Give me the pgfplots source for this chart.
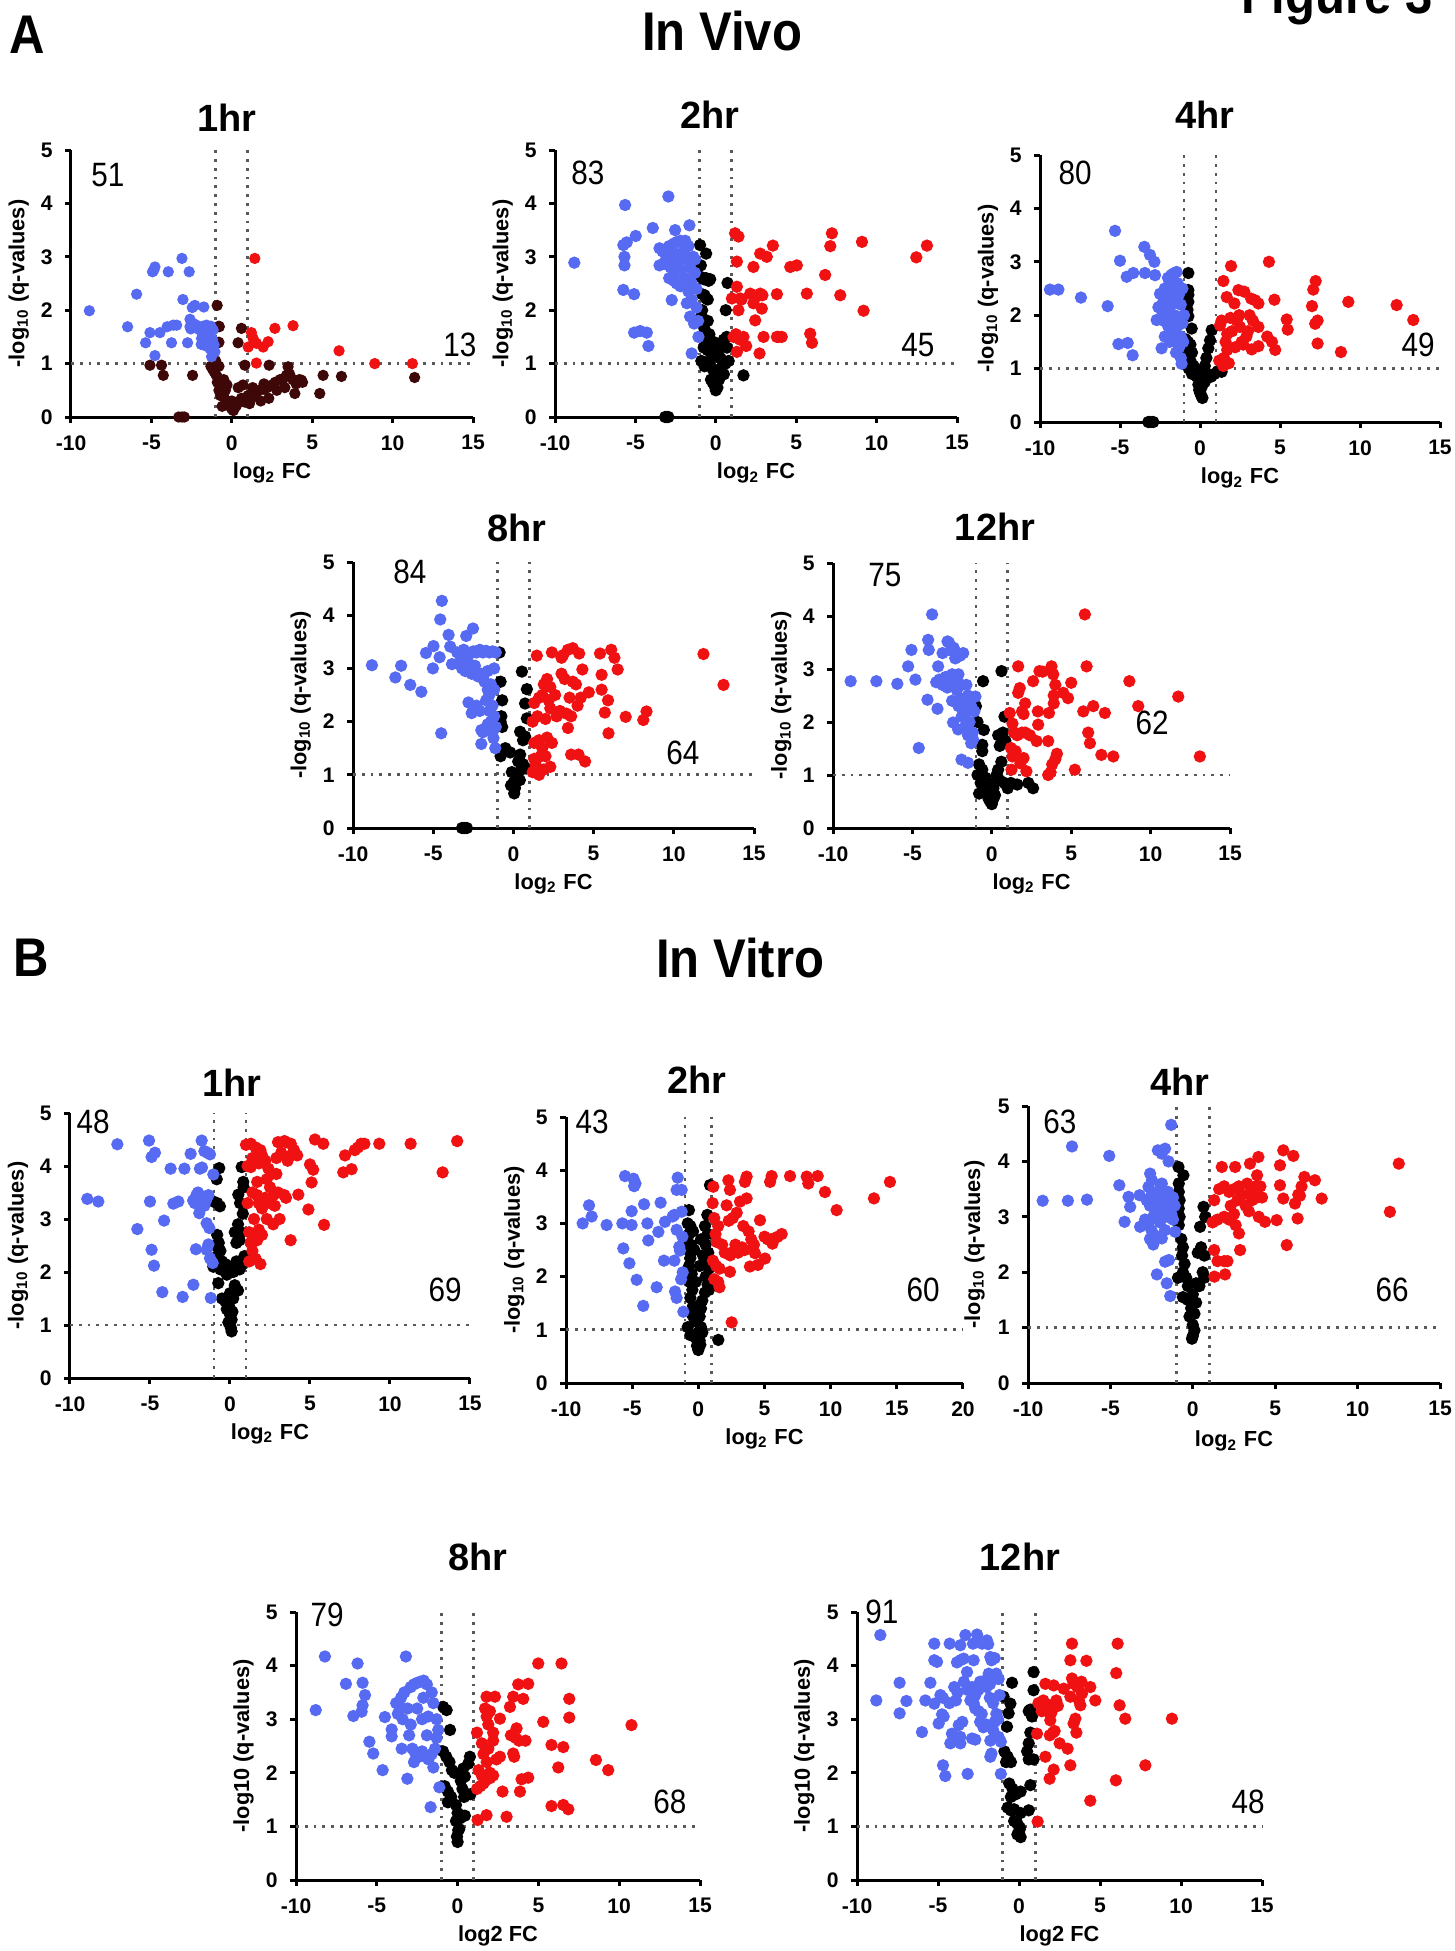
\documentclass[border=0pt]{standalone}
\usepackage{fontspec}
\setmainfont{Liberation Sans}
\newfontfamily\headfont[FakeStretch=0.9]{Liberation Sans}
\newfontfamily\numfont[FakeStretch=0.88]{Liberation Sans}
\usepackage{pgfplots}
\pgfplotsset{compat=1.18}

\definecolor{downblue}{RGB}{86,106,242}
\definecolor{upred}{RGB}{240,18,18}
\definecolor{nsbrown}{RGB}{62,8,8}

\pgfplotsset{
  volc/.style={
    scale only axis, anchor=south west,
    xmin=-10, xmax=15, ymin=0, ymax=5,
    axis x line=bottom, axis y line=left,
    axis line style={-, line width=0.3mm},
    xtick={-10,-5,...,15}, ytick={0,1,...,5},
    tick align=outside, major tick length=0.6mm,
    every tick/.style={black, line width=0.3mm},
    tick label style={font=\fontsize{6}{7}\selectfont\bfseries},
    /pgf/number format/assume math mode=true,
    xlabel={log\textsubscript{2} FC},
    ylabel={-log\textsubscript{10} (q-values)},
    every axis x label/.style={at={(axis description cs:0.5,-0.21)}, anchor=center,
      font=\fontsize{6.2}{7}\selectfont\bfseries},
    every axis y label/.style={at={(axis description cs:-0.13,0.5)}, anchor=center, rotate=90,
      font=\fontsize{6.2}{7}\selectfont\bfseries},
    clip=false,
  },
  dn/.style={only marks, mark=*, mark size=1.55pt, color=downblue, mark options={draw=none}},
  up/.style={only marks, mark=*, mark size=1.55pt, color=upred, mark options={draw=none}},
  ns/.style={only marks, mark=*, mark size=1.55pt, color=black, mark options={draw=none}},
  cut/.style={no marks, line width=0.28mm, black!65, dash pattern=on 0.28mm off 0.6mm},
}

\newcommand{\cuts}[1]{%
  \addplot[cut] coordinates {(-10,1) (#1,1)};
  \addplot[cut] coordinates {(-1,0) (-1,5)};
  \addplot[cut] coordinates {(1,0) (1,5)};
}
\newcommand{\cnt}[3]{\node[font=\numfont\fontsize{9.6}{11}\selectfont] at (axis cs:#1,#2) {#3};}
\newcommand{\ttl}[3]{\node[font=\bfseries\fontsize{10.8}{12}\selectfont] at (axis cs:#1,#2) {#3};}

\begin{document}
\begin{tikzpicture}
\useasboundingbox (0,0) rectangle (14.55,-19.51);
\node[font=\headfont\bfseries\fontsize{15.5}{18}\selectfont] at (0.27,-0.35) {A};
\node[font=\headfont\bfseries\fontsize{15.5}{18}\selectfont] at (7.22,-0.31) {In Vivo};
\node[font=\headfont\bfseries\fontsize{15.5}{18}\selectfont, anchor=base east] at (14.45,-0.13) {Figure 3};
\node[font=\headfont\bfseries\fontsize{15.5}{18}\selectfont] at (0.31,-9.58) {B};
\node[font=\headfont\bfseries\fontsize{15.5}{18}\selectfont] at (7.40,-9.58) {In Vitro};

% ---------------- A: in vivo, 1hr
\begin{axis}[volc, at={(0.71cm,-4.17cm)}, width=4.02cm, height=2.67cm]
\cuts{15}
\addplot[ns, color=nsbrown, mark size=1.4pt] coordinates {
(-0.91,2.09) (-0.78,1.69) (-0.85,1.39) (0.60,1.66) (0.39,1.39) (0.81,0.97) (2.32,0.97)
(-5.09,0.97) (-4.37,0.97) (-4.26,0.78) (-2.44,0.78) (-3.30,0) (-3.10,0) (-2.95,0)
(3.50,0.94) (3.92,0.44) (5.47,0.44) (5.68,0.78) (6.82,0.76) (11.37,0.74) (4.33,0.69)
(-1.3,0.95) (-1.2,0.9) (-1.1,0.85) (-1.0,0.8) (-0.9,0.75) (-0.8,0.95) (-0.7,0.6) (-0.8,0.5)
(-0.6,0.45) (-0.5,0.38) (-0.4,0.5) (-0.3,0.3) (-0.2,0.25) (-0.1,0.2) (0,0.15) (0.1,0.12)
(0.2,0.18) (0.3,0.22) (0.5,0.3) (0.6,0.35) (0.8,0.28) (1.0,0.4) (1.2,0.35) (1.5,0.45)
(1.7,0.5) (2.0,0.52) (2.2,0.55) (2.5,0.6) (2.7,0.65) (3.0,0.7) (3.2,0.72) (3.4,0.78)
(3.6,0.8) (3.8,0.7) (4.0,0.62) (4.2,0.7) (4.4,0.65) (-0.9,0.65) (-0.7,0.4) (0.4,0.55)
(0.7,0.6) (1.3,0.55) (2.3,0.35) (1.8,0.3) (-0.5,0.7) (-1.0,1.05) (-0.3,0.6) (-0.8,1.7)
(-0.8,1.4) (2.0,0.62) (2.8,0.5) (1.1,0.25) (0.0,0.3) (-0.6,0.2) (3.3,0.55)
};
\addplot[dn, mark size=1.4pt] coordinates {
(-8.86,1.99) (-6.48,1.69) (-5.92,2.30) (-5.36,1.39) (-5.09,1.58) (-4.93,2.72) (-4.78,2.81)
(-4.85,2.75) (-4.78,1.15) (-4.47,1.58) (-4.02,1.69) (-3.95,2.72) (-3.75,1.39) (-3.64,1.72)
(-3.43,1.72) (-3.10,2.97) (-3.04,2.20) (-2.75,1.39) (-2.65,2.72) (-2.60,1.83) (-2.60,1.69)
(-2.46,2.05) (-2.30,2.09) (-2.20,1.72) (-2.40,1.75) (-2.00,1.63) (-1.74,2.06) (-1.88,1.47)
(-1.68,1.34) (-1.57,1.72) (-1.47,1.47) (-1.36,1.28) (-1.16,1.63) (-1.26,1.13) (-1.05,1.22)
(-1.30,1.70) (-1.80,1.70) (-1.60,1.40) (-1.45,1.60) (-1.20,1.45) (-2.10,1.68) (-1.90,1.36)
(-1.10,1.35) (-2.55,1.65)
};
\addplot[up, mark size=1.4pt] coordinates {
(1.43,2.97) (1.22,1.58) (1.02,1.31) (1.33,1.47) (1.53,1.38) (1.53,1.01) (1.95,1.31)
(2.26,1.41) (2.68,1.66) (3.81,1.71) (6.67,1.24) (8.89,1.00) (11.23,1.00)
};
\ttl{-0.30}{5.6}{1hr}
\cnt{-7.70}{4.53}{51}
\cnt{14.19}{1.35}{13}
\end{axis}

% ---------------- A: in vivo, 2hr
\begin{axis}[volc, at={(5.55cm,-4.17cm)}, width=4.02cm, height=2.67cm]
\cuts{15}
\addplot[ns] coordinates {
(-0.98,3.22) (-0.60,3.06) (-0.93,2.84) (-0.9,2.62) (-0.75,2.58) (-0.6,2.6) (-0.45,2.55)
(-0.35,2.58) (-0.85,2.3) (-0.6,2.22) (-0.7,2.28) (-0.5,2.2) (0.73,2.51) (0.62,2.00)
(-0.9,1.9) (-0.8,1.75) (-0.7,1.65) (-0.5,1.8) (-0.85,1.5) (-0.6,1.45) (-0.4,1.55)
(-0.75,1.3) (-0.5,1.25) (-0.3,1.35) (-0.1,1.4) (0.1,1.2) (0.3,1.3) (0.5,1.45) (0.68,1.50)
(-0.9,1.05) (-0.7,0.95) (-0.4,1.0) (-0.2,0.9) (0.0,0.8) (0.2,0.85) (0.4,0.95) (0.6,1.0)
(0.8,1.05) (0.5,0.8) (-0.3,0.7) (-0.1,0.6) (0.1,0.55) (0.0,0.5) (-0.2,0.65) (0.2,0.7)
(1.72,0.78) (-3.15,0) (-2.95,0) (-3.05,0) (-0.3,1.1) (0.3,1.1) (0.7,1.3) (-0.85,2.0)
};
\addplot[dn] coordinates {
(-8.80,2.89) (-5.64,3.97) (-5.75,3.22) (-5.54,3.27) (-5.68,3.00) (-5.68,2.84) (-5.75,2.38)
(-5.08,2.30) (-4.98,3.39) (-5.08,1.58) (-4.71,1.61) (-4.29,1.58) (-4.19,1.33) (-3.92,3.54)
(-3.50,3.16) (-3.50,2.84) (-2.95,4.13) (-2.53,3.50) (-1.64,3.59)
(-3.3,3.1) (-3.1,2.95) (-2.9,3.2) (-2.8,2.8) (-2.7,3.0) (-2.6,3.25) (-2.5,2.7) (-2.4,3.05)
(-2.3,2.9) (-2.2,3.3) (-2.1,2.75) (-2.0,3.1) (-1.9,2.6) (-1.8,2.95) (-1.7,3.2) (-1.6,2.8)
(-1.5,2.5) (-1.4,3.0) (-1.3,2.7) (-1.2,2.4) (-1.9,3.3) (-2.6,2.55) (-2.2,2.45) (-1.7,2.35)
(-1.5,2.2) (-2.9,2.6) (-3.0,2.85) (-2.4,3.28) (-1.3,2.95)
(-2.74,2.19) (-2.43,2.50) (-1.80,2.13) (-1.60,1.88) (-1.08,1.50) (-1.50,1.19) (-1.35,1.75)
(-1.2,2.05) (-1.1,1.8)
};
\addplot[up] coordinates {
(1.20,3.44) (1.41,3.38) (1.31,2.91) (1.31,2.44) (1.00,2.22) (1.51,2.22) (1.41,2.00)
(1.10,1.50) (1.72,1.50) (1.31,1.22) (1.89,1.33) (2.34,2.81) (2.14,2.31) (2.34,2.13)
(2.45,1.81) (2.76,2.31) (2.86,2.03) (2.97,1.50) (2.72,1.19) (2.76,3.06) (3.17,3.00)
(3.55,3.21) (3.80,2.30) (3.80,1.50) (4.10,1.50) (4.63,2.81) (5.04,2.84) (5.66,2.31)
(5.87,1.56) (5.98,1.39) (6.80,2.66) (7.12,3.20) (7.22,3.44) (7.74,2.28) (9.09,3.28)
(9.19,1.99) (12.47,2.99) (13.13,3.21) (1.5,1.45) (2.5,2.25) (3.9,1.5) (1.25,1.55)
(2.9,2.28) (1.6,2.2)
};
\ttl{-0.36}{5.66}{2hr}
\cnt{-7.95}{4.57}{83}
\cnt{12.57}{1.35}{45}
\end{axis}

% ---------------- A: in vivo, 4hr
\begin{axis}[volc, at={(10.40cm,-4.22cm)}, width=4.00cm, height=2.67cm]
\cuts{15}
\addplot[ns] coordinates {
(-0.73,2.79) (-0.73,2.47) (-0.73,2.38) (-0.73,2.25) (-0.78,2.10) (-0.73,1.98) (-0.52,1.75)
(-0.9,1.55) (-0.75,1.5) (-0.6,1.45) (-0.85,1.35) (-0.5,1.3) (-0.8,1.2) (-0.6,1.15)
(-0.4,1.05) (-0.7,1.0) (-0.3,0.95) (-0.5,0.9) (-0.2,0.85) (0.0,0.8) (0.73,1.72) (0.63,1.53)
(0.52,1.38) (0.4,1.2) (0.3,1.05) (0.2,0.95) (0.5,0.9) (0.7,0.85) (0.9,0.9) (1.35,0.94)
(1.1,0.95) (-0.1,0.7) (0.1,0.65) (0.0,0.55) (0.1,0.48) (0.15,0.45) (-0.05,0.6) (0.3,0.75)
(-3.23,0) (-2.92,0) (-3.1,0)
};
\addplot[dn] coordinates {
(-9.38,2.48) (-8.85,2.48) (-7.44,2.33) (-5.77,2.17) (-5.31,3.58) (-5.00,3.02) (-5.10,1.46)
(-4.52,1.48) (-4.21,1.25) (-4.58,2.72) (-4.17,2.79) (-3.48,3.28) (-3.44,2.79) (-3.13,3.13)
(-2.85,3.00) (-2.81,2.75) (-2.71,1.91) (-2.40,1.38) (-1.67,2.78) (-1.46,2.81) (-1.15,1.09)
(-2.5,2.4) (-2.3,2.25) (-2.2,2.5) (-2.1,2.1) (-2.0,2.35) (-1.9,2.6) (-1.8,2.2) (-1.7,2.45)
(-1.6,2.0) (-1.5,2.3) (-1.4,2.6) (-1.3,1.9) (-1.2,2.2) (-1.1,2.5) (-2.4,2.1) (-2.6,2.15)
(-2.3,1.9) (-2.0,1.8) (-1.8,1.95) (-1.6,1.7) (-1.4,1.8) (-1.2,1.6) (-1.1,1.85) (-1.9,1.5)
(-1.7,1.55) (-1.3,1.4) (-1.5,1.3) (-1.2,1.2) (-2.2,1.6) (-1.0,2.0) (-1.05,1.5) (-2.0,2.7)
(-1.8,2.75) (-1.3,2.4)
};
\addplot[up] coordinates {
(1.46,2.64) (1.94,2.92) (1.67,2.34) (1.35,1.90) (1.25,1.81) (1.6,1.5) (1.7,1.35) (1.5,1.2)
(1.8,1.1) (1.2,1.15) (1.45,1.05) (2.15,2.22) (2.40,2.47) (2.30,1.90) (2.50,1.78)
(2.77,2.44) (2.6,1.5) (2.9,1.6) (2.7,1.45) (3.10,2.00) (3.20,2.31) (3.44,2.28) (3.65,2.22)
(3.65,1.78) (3.65,1.42) (3.23,1.36) (4.2,1.6) (4.5,1.5) (4.7,1.35) (4.31,3.00) (4.65,2.29)
(5.42,1.92) (5.48,1.73) (7.00,2.17) (7.08,2.48) (7.23,2.64) (7.20,1.84) (7.35,1.90)
(7.35,1.47) (8.81,1.31) (9.27,2.25) (12.29,2.19) (13.33,1.91) (2.0,1.7) (1.9,1.95)
(2.2,1.4) (3.0,1.7) (1.7,1.65) (2.45,2.0) (3.3,1.9)
};
\ttl{0.31}{5.75}{4hr}
\cnt{-7.81}{4.66}{80}
\cnt{13.63}{1.44}{49}
\end{axis}

% ---------------- A: in vivo, 8hr
\begin{axis}[volc, at={(3.53cm,-8.28cm)}, width=4.01cm, height=2.66cm]
\cuts{15}
\addplot[ns] coordinates {
(-0.86,3.30) (0.53,2.94) (-0.8,2.75) (-0.7,2.4) (-0.75,2.1) (-0.8,2.0) (-0.7,1.9) (0.84,2.61)
(0.73,2.34) (0.84,2.06) (0.42,1.81) (0.73,1.72) (0.6,1.65) (-0.7,1.45) (-0.5,1.5)
(-0.2,1.42) (-0.8,1.35) (0.42,1.38) (0.6,1.2) (0.3,1.25) (0.5,1.1) (0.8,1.12) (-0.1,1.05)
(0.2,1.0) (0.0,0.85) (0.1,0.75) (0.05,0.65) (-0.15,0.8) (0.4,0.9) (-3.2,0) (-2.9,0) (-3.05,0)
};
\addplot[dn] coordinates {
(-8.82,3.06) (-7.36,2.83) (-7.00,3.05) (-6.43,2.69) (-5.74,2.56) (-5.45,3.29) (-4.98,3.42)
(-5.02,3.00) (-4.60,3.21) (-4.56,3.92) (-4.50,1.78) (-4.46,4.27) (-4.04,3.63) (-3.94,3.41)
(-3.83,3.08) (-2.94,3.61) (-2.52,3.75)
(-3.5,3.3) (-3.3,3.25) (-3.1,3.35) (-2.9,3.3) (-2.7,3.28) (-2.5,3.32) (-2.3,3.3) (-2.1,3.35)
(-1.9,3.3) (-1.7,3.33) (-1.5,3.3) (-1.3,3.32) (-1.1,3.3) (-3.4,3.1) (-3.2,3.0) (-3.0,2.95)
(-2.8,3.1) (-2.6,2.9) (-2.4,3.05) (-2.2,2.85) (-2.0,2.9) (-1.8,2.75) (-1.6,2.95) (-1.4,2.7)
(-1.2,3.0) (-1.5,2.5) (-1.7,2.4) (-1.3,2.3) (-1.2,2.1) (-1.4,2.0) (-1.1,1.9) (-1.3,1.8)
(-1.6,2.6) (-2.8,2.36) (-2.6,2.16) (-2.1,2.2) (-1.9,1.8) (-2.3,2.3) (-2.0,1.84) (-2.0,1.58)
(-1.24,1.69) (-1.13,1.50) (-1.5,2.2) (-1.2,2.6) (-1.6,1.95)
};
\addplot[up] coordinates {
(1.46,3.24) (2.40,3.30) (3.0,3.20) (3.4,3.35) (3.1,3.25) (3.7,3.38) (4.1,3.28) (5.4,3.28)
(6.1,3.35) (6.3,3.2) (6.5,2.98) (4.3,2.98) (3.0,2.9) (3.2,2.8) (1.9,2.7) (2.1,2.8)
(2.3,2.65) (1.6,2.45) (1.3,2.35) (1.8,2.5) (2.2,2.4) (2.6,2.5) (3.7,2.75) (3.9,2.7)
(3.5,2.45) (4.2,2.45) (4.7,2.55) (5.5,2.88) (5.5,2.6) (5.9,2.4) (5.7,2.17) (5.93,1.78)
(7.0,2.09) (8.1,2.03) (8.3,2.19) (11.85,3.27) (13.1,2.69) (1.2,2.0) (1.5,2.1) (2.0,2.05)
(2.3,2.25) (2.7,2.1) (2.9,2.2) (3.3,2.15) (3.6,2.1) (4.0,2.3) (3.4,1.88) (1.3,1.6)
(1.6,1.65) (2.1,1.7) (1.8,1.5) (1.3,1.3) (1.7,1.35) (1.4,1.18) (1.9,1.1) (2.3,1.15)
(1.2,1.05) (1.6,1.0) (3.6,1.38) (4.06,1.38) (4.47,1.25) (2.0,1.35) (2.4,1.6)
};
\ttl{0.22}{5.64}{8hr}
\cnt{-6.45}{4.81}{84}
\cnt{10.57}{1.41}{64}
\end{axis}

% ---------------- A: in vivo, 12hr
\begin{axis}[volc, at={(8.33cm,-8.28cm)}, width=3.97cm, height=2.65cm]
\cuts{15}
\addplot[ns] coordinates {
(0.61,2.96) (-0.55,2.77) (-1.0,2.3) (-0.9,2.0) (-0.5,1.85) (-0.6,1.57) (-0.6,1.45) (0.4,1.75)
(0.85,1.65) (0.7,1.8) (-0.8,1.2) (-0.6,1.1) (-0.9,1.0) (-0.4,0.95) (-0.7,0.85) (-0.5,0.75)
(-0.3,0.65) (-0.2,0.55) (-0.1,0.5) (0.0,0.45) (0.1,0.55) (0.2,0.62) (0.4,1.1) (0.5,0.9)
(0.8,0.85) (1.2,0.85) (1.6,0.82) (2.3,0.85) (2.6,0.75) (0.3,1.0) (0.6,1.25) (-0.2,0.85)
(0.1,0.75) (0.8,2.1) (-0.8,0.65) (0.5,1.55) (1.0,0.75)
};
\addplot[dn] coordinates {
(-8.89,2.77) (-7.27,2.77) (-5.95,2.72) (-5.27,3.05) (-5.06,3.36) (-4.81,2.80) (-4.60,1.51)
(-4.01,3.55) (-3.97,3.36) (-4.05,2.42) (-3.76,4.03) (-3.38,3.05) (-3.42,2.25) (-2.79,3.52)
(-2.44,1.99) (-2.12,1.86) (-1.91,1.29) (-1.50,1.23) (-1.18,1.67) (-1.03,2.48)
(-3.5,2.75) (-3.3,2.8) (-3.1,2.7) (-2.9,2.85) (-2.7,2.75) (-2.5,2.9) (-2.3,2.8) (-2.1,2.9)
(-1.9,2.7) (-2.6,3.35) (-2.4,3.4) (-2.2,3.3) (-2.0,3.25) (-1.8,3.3) (-2.3,3.2) (-2.8,2.65)
(-2.2,2.6) (-2.0,2.45) (-1.8,2.35) (-1.6,2.2) (-2.1,2.3) (-1.5,2.5) (-1.4,2.0) (-1.7,1.9)
(-1.5,1.75) (-1.3,1.6) (-1.9,2.1) (-2.5,2.4) (-1.2,1.8) (-1.6,2.7) (-1.3,2.3) (-1.1,2.2)
(-2.7,3.5) (-3.1,3.3)
};
\addplot[up] coordinates {
(5.86,4.03) (5.97,3.05) (1.66,3.05) (3.0,2.96) (3.2,2.95) (3.76,3.05) (3.87,2.9) (2.6,2.77)
(4.0,2.7) (5.0,2.74) (4.5,2.55) (4.8,2.45) (1.76,2.64) (1.66,2.55) (2.1,2.35) (1.9,2.2)
(2.0,2.15) (2.9,2.2) (3.6,2.17) (3.9,2.35) (3.9,2.5) (1.13,2.17) (1.3,1.97) (1.4,1.8)
(1.6,1.75) (1.9,1.8) (2.1,1.8) (2.92,1.95) (2.82,1.64) (3.55,1.64) (1.2,1.51) (1.3,1.35)
(2.0,1.32) (1.8,1.22) (1.24,1.10) (2.18,1.07) (3.55,1.0) (3.8,1.2) (4.0,1.3) (4.1,1.4)
(5.23,1.10) (5.76,2.20) (6.39,2.30) (6.07,1.80) (6.18,1.60) (7.12,2.17) (6.90,1.38)
(7.65,1.35) (8.66,2.77) (9.22,2.30) (11.74,2.48) (13.10,1.35) (3.7,1.05) (2.4,1.75) (1.5,1.45)
};
\ttl{0.2}{5.68}{12hr}
\cnt{-6.73}{4.77}{75}
\cnt{10.09}{1.98}{62}
\end{axis}

% ---------------- B: in vitro, 1hr
\begin{axis}[volc, at={(0.70cm,-13.78cm)}, width=4.00cm, height=2.65cm]
\cuts{15}
\addplot[ns] coordinates {
(-0.67,3.96) (-0.83,3.75) (0.73,3.98) (0.83,3.70) (0.85,3.6) (0.52,3.46) (0.63,3.30)
(-1.04,3.33) (-0.63,3.24) (-0.8,3.3) (0.5,2.9) (0.3,2.75) (0.6,2.6) (0.4,2.55) (0.8,3.1)
(-0.8,2.7) (-0.7,2.55) (-0.6,2.4) (-0.8,2.3) (-0.5,2.2) (-0.3,2.15) (-0.6,2.05) (-1.04,2.10)
(-0.73,1.79) (0.0,2.1) (0.2,2.0) (0.4,2.2) (0.6,2.05) (0.8,2.15) (0.9,2.3) (-0.2,1.95)
(0.3,1.75) (0.5,1.65) (0.2,1.5) (-0.5,1.5) (-0.3,1.45) (-0.2,1.3) (0.0,1.2) (0.1,1.1)
(-0.1,1.05) (0.05,0.95) (0.1,0.88) (-0.05,1.35) (0.15,1.25) (0.0,1.6) (-0.9,2.5) (0.7,2.75)
};
\addplot[dn] coordinates {
(-8.92,3.38) (-8.23,3.33) (-7.04,4.41) (-5.79,2.81) (-5.06,4.48) (-5.00,3.33) (-4.90,4.17)
(-4.69,4.25) (-4.90,2.42) (-4.75,2.12) (-4.23,1.62) (-4.12,2.97) (-3.71,3.95) (-3.54,3.29)
(-3.23,3.33) (-2.96,1.53) (-2.85,3.95) (-2.46,4.23) (-2.29,1.76) (-2.13,2.43) (-1.88,3.95)
(-1.75,3.97) (-1.77,4.48) (-1.60,4.28) (-1.40,4.25) (-1.25,4.22) (-2.3,3.35) (-2.1,3.45)
(-2.0,3.5) (-1.9,3.38) (-1.8,3.3) (-1.7,3.42) (-1.5,3.35) (-1.35,3.45) (-2.2,3.3)
(-1.92,3.11) (-1.46,2.92) (-1.29,2.83) (-1.35,2.52) (-1.46,2.42) (-1.25,2.26) (-1.08,2.17)
(-1.20,1.51) (-1.04,3.84) (-1.6,3.25)
};
\addplot[up] coordinates {
(1.0,4.4) (1.3,4.42) (1.6,4.35) (1.9,4.3) (2.0,4.2) (2.2,4.1) (1.4,4.15) (1.8,4.05)
(1.3,3.98) (2.4,3.95) (2.6,3.85) (2.3,3.75) (1.7,3.7) (3.0,4.45) (3.4,4.47) (3.8,4.42)
(4.0,4.3) (3.2,4.25) (3.6,4.1) (2.9,4.15) (3.5,4.45) (4.2,4.2) (3.8,4.2) (2.9,3.85)
(3.0,3.5) (3.4,3.45) (2.7,3.45) (2.2,3.4) (1.7,3.45) (1.4,3.5) (1.8,3.3) (2.5,3.3) (2.0,3.2)
(3.5,3.4) (2.8,3.25) (2.3,3.0) (1.5,3.0) (2.7,2.9) (3.1,3.0) (1.2,2.75) (1.5,2.65)
(1.8,2.8) (2.0,2.7) (1.3,2.55) (1.7,2.6) (1.4,2.4) (1.6,2.25) (1.9,2.15) (1.2,2.2)
(3.79,2.60) (4.27,3.46) (4.9,3.18) (5.1,3.69) (5.0,4.03) (5.2,3.93) (5.31,4.50) (5.83,4.42)
(5.88,2.89) (7.19,4.20) (7.08,3.88) (7.60,3.94) (7.8,4.3) (8.0,4.35) (8.2,4.42) (8.4,4.42)
(9.33,4.42) (11.29,4.42) (13.29,3.88) (14.20,4.47) (2.5,3.6) (1.1,3.3) (1.1,4.0)
};
\ttl{0.13}{5.58}{1hr}
\cnt{-8.56}{4.83}{48}
\cnt{13.44}{1.66}{69}
\end{axis}

% ---------------- B: in vitro, 2hr
\begin{axis}[volc, at={(5.66cm,-13.83cm)}, width=3.97cm, height=2.66cm, xmax=20, xtick={-10,-5,...,20}]
\cuts{20}
\addplot[ns] coordinates {
(0.88,3.72) (-0.71,3.25) (0.68,3.16) (-0.8,3.0) (-0.6,2.95) (-0.7,2.8) (-0.55,2.6)
(-0.75,2.5) (-0.6,2.35) (-0.7,2.2) (-0.5,2.05) (-0.65,1.9) (-0.45,1.75) (-0.6,1.6)
(-0.4,1.45) (-0.5,1.3) (-0.3,1.2) (-0.8,1.05) (-0.6,0.9) (0.5,2.95) (0.7,2.8) (0.55,2.6)
(0.75,2.45) (0.6,2.3) (0.8,2.15) (0.55,2.0) (0.7,1.85) (0.5,1.7) (0.8,1.75) (0.3,1.55)
(0.2,1.4) (0.1,1.25) (-0.1,1.15) (0.2,1.05) (0.0,0.95) (-0.2,0.85) (0.1,0.8) (-0.1,0.7)
(0.0,0.62) (0.15,0.72) (-0.3,0.9) (0.3,0.95) (1.51,0.81) (-0.3,2.5) (0.2,2.7) (0.1,2.2)
(-0.2,1.9) (0.35,2.4) (-0.9,2.7) (-0.4,2.85)
};
\addplot[dn] coordinates {
(-8.74,3.00) (-8.26,3.34) (-8.06,3.13) (-6.93,2.97) (-5.74,3.00) (-5.67,2.53) (-5.54,3.89)
(-5.21,2.25) (-5.04,2.97) (-5.04,3.23) (-4.90,3.84) (-4.75,3.75) (-4.85,3.70) (-4.66,1.94)
(-4.10,3.36) (-4.16,1.45) (-3.85,3.00) (-3.78,2.68) (-3.15,1.80) (-3.02,2.84) (-2.85,3.39)
(-2.60,2.30) (-2.52,3.03) (-1.81,2.30) (-1.81,3.16) (-1.56,3.86) (-1.64,3.63) (-1.26,3.63)
(-1.94,3.13) (-1.64,2.88) (-1.44,2.56) (-1.26,3.22) (-1.76,1.72) (-1.64,1.60) (-1.18,2.08)
(-1.13,1.34) (-1.39,2.49) (-1.3,1.95) (-1.2,2.75)
};
\addplot[up] coordinates {
(14.48,3.78) (13.27,3.47) (10.45,3.25) (9.57,3.59) (9.02,3.89) (8.19,3.88) (8.31,3.75)
(6.93,3.89) (5.54,3.89) (5.42,3.78) (3.65,3.88) (3.52,3.78) (2.27,3.81) (2.39,3.63)
(1.13,3.69) (1.08,3.38) (2.14,3.34) (3.15,3.41) (3.65,3.47) (2.9,3.2) (2.6,3.1) (2.3,3.05)
(1.2,3.1) (1.5,2.95) (1.3,2.8) (1.4,2.65) (3.4,2.95) (3.8,2.85) (4.0,2.7) (4.2,2.6)
(4.66,3.06) (5.0,2.75) (5.25,2.7) (5.5,2.7) (5.75,2.72) (6.0,2.75) (6.3,2.8) (5.6,2.62)
(2.0,2.45) (2.4,2.4) (2.5,2.45) (3.0,2.45) (3.5,2.5) (3.3,2.55) (4.28,2.44) (5.04,2.34)
(3.90,2.19) (4.50,2.22) (2.39,2.09) (1.1,2.3) (1.35,2.2) (1.6,2.15) (1.5,1.90) (1.6,1.80)
(2.52,1.14) (1.2,1.95) (1.8,2.6) (2.8,2.6)
};
\ttl{-0.1}{5.7}{2hr}
\cnt{-8.03}{4.91}{43}
\cnt{16.98}{1.75}{60}
\end{axis}

% ---------------- B: in vitro, 4hr
\begin{axis}[volc, at={(10.28cm,-13.83cm)}, width=4.12cm, height=2.77cm]
\cuts{15}
\addplot[ns] coordinates {
(-0.87,3.90) (-0.57,3.75) (-0.85,3.6) (-0.85,3.45) (-0.8,3.3) (-0.85,3.15) (-0.8,3.0)
(-0.85,2.85) (0.65,3.18) (0.75,3.00) (0.44,2.82) (0.5,2.45) (0.7,2.3) (0.3,2.35) (-0.7,2.6)
(-0.6,2.45) (-0.65,2.3) (-0.5,2.15) (-0.6,2.0) (0.6,2.0) (0.7,1.9) (0.4,1.75) (-0.9,1.9)
(-0.4,1.9) (-0.6,1.55) (-0.3,1.5) (0.0,1.6) (0.2,1.45) (-0.1,1.35) (0.1,1.25) (-0.2,1.2)
(0.0,1.05) (0.1,0.95) (0.0,0.85) (-0.05,0.8) (0.2,1.8) (-0.3,1.75)
};
\addplot[dn] coordinates {
(-9.11,3.29) (-7.58,3.29) (-7.33,4.27) (-6.42,3.31) (-5.07,4.10) (-4.46,3.57) (-4.14,2.91)
(-3.90,3.36) (-3.80,3.18) (-3.20,2.82) (-3.23,3.39) (-2.59,3.78) (-2.48,3.66) (-2.69,3.54)
(-2.12,4.20) (-1.88,4.14) (-1.68,4.23) (-1.88,3.60) (-1.47,4.00) (-1.31,4.66) (-2.9,2.95)
(-2.7,2.85) (-2.5,2.75) (-2.6,2.6) (-2.4,2.5) (-2.2,2.65) (-2.0,2.9)
(-2.8,3.3) (-2.6,3.2) (-2.5,3.4) (-2.3,3.3) (-2.2,3.1) (-2.1,3.4) (-1.9,3.25) (-1.8,3.05)
(-1.7,3.35) (-1.6,3.15) (-1.5,3.45) (-1.4,3.25) (-1.3,3.05) (-1.2,3.35) (-1.1,3.2)
(-2.4,3.0) (-2.0,3.5) (-1.5,3.0) (-1.2,2.95)
(-1.68,2.76) (-1.88,2.61) (-1.68,2.19) (-1.45,2.22) (-2.18,1.96) (-1.58,1.80) (-1.37,1.57)
(-1.07,2.73)
};
\addplot[up] coordinates {
(12.5,3.96) (11.96,3.09) (7.82,3.33) (7.41,3.66) (6.77,3.72) (6.6,3.55) (6.4,3.4) (6.5,3.38)
(6.2,3.24) (6.36,2.97) (5.49,4.20) (6.10,4.10) (5.29,3.93) (5.29,3.57) (5.49,3.33)
(5.09,2.94) (5.70,2.49) (3.98,4.08) (3.47,3.96) (2.57,3.90) (1.76,3.90) (1.3,3.3) (1.6,3.5)
(1.9,3.55) (2.2,3.45) (2.5,3.5) (2.8,3.55) (3.0,3.4) (2.7,3.3) (3.3,3.6) (3.5,3.45)
(3.8,3.55) (4.1,3.55) (3.6,3.3) (3.9,3.35) (4.2,3.35) (3.2,3.2) (3.4,3.1) (2.3,3.2)
(1.9,3.0) (1.5,2.95) (1.2,2.9) (2.2,2.95) (2.6,2.85) (2.8,2.7) (4.0,3.0) (4.38,2.91)
(2.87,2.40) (1.3,2.4) (1.5,2.2) (1.9,2.2) (2.1,2.2) (1.31,1.92) (1.96,1.96) (2.5,3.05)
(3.9,3.75)
};
\ttl{-0.78}{5.43}{4hr}
\cnt{-8.06}{4.71}{63}
\cnt{12.09}{1.68}{66}
\end{axis}

% ---------------- B: in vitro, 8hr
\begin{axis}[volc, at={(2.96cm,-18.80cm)}, width=4.04cm, height=2.68cm,
  xlabel={log2 FC}, ylabel={-log10 (q-values)}]
\cuts{15}
\addplot[ns] coordinates {
(-0.89,3.23) (-0.68,3.17) (-0.47,2.80) (-0.9,2.4) (-0.7,2.3) (-0.5,2.2) (-0.35,2.05)
(-0.2,2.0) (0.76,2.30) (0.66,2.17) (0.35,2.08) (0.45,1.93) (0.2,1.85) (-0.8,1.75)
(-0.6,1.65) (-0.4,1.55) (-0.6,1.45) (0.4,1.55) (0.6,1.6) (0.8,1.6) (-0.1,1.4) (0.0,1.25)
(0.15,1.15) (0.3,1.2) (0.45,1.2) (-0.1,1.1) (0.1,0.95) (0.04,0.93) (-0.04,0.81) (0.0,0.71)
(0.3,1.7)
};
\addplot[dn] coordinates {
(-8.78,3.17) (-8.21,4.17) (-6.91,3.66) (-6.45,3.06) (-6.19,4.04) (-5.88,3.68) (-5.73,3.45)
(-5.88,3.26) (-5.94,3.14) (-5.46,2.58) (-5.22,2.36) (-4.64,2.05) (-4.50,3.04) (-4.08,2.81)
(-4.08,2.68) (-3.8,3.3) (-3.6,3.25) (-3.7,3.1) (-3.5,3.4) (-3.4,3.0) (-3.46,2.45)
(-3.20,4.17) (-3.11,1.89) (-2.9,3.6) (-2.7,3.65) (-2.5,3.68) (-2.3,3.7) (-2.1,3.72)
(-1.9,3.65) (-1.6,3.5) (-1.5,3.3) (-3.0,2.7) (-2.9,2.9) (-3.1,3.2) (-2.8,2.45) (-2.6,2.35)
(-2.4,2.3) (-2.2,2.4) (-2.0,2.3) (-1.8,2.25) (-1.6,2.35) (-1.4,2.45) (-1.3,2.65) (-1.2,2.8)
(-1.5,2.1) (-2.12,3.40) (-1.82,3.05) (-2.2,3.0) (-2.5,3.2) (-1.67,1.36) (-1.13,1.73)
(-1.3,3.0) (-1.9,2.7) (-3.3,3.5) (-2.7,2.2)
};
\addplot[up] coordinates {
(4.99,4.04) (6.43,4.04) (6.91,3.38) (6.91,3.03) (10.76,2.89) (8.56,2.24) (9.32,2.05)
(4.37,3.66) (3.75,3.65) (4.06,3.38) (5.30,2.95) (5.81,2.52) (6.54,2.48) (6.23,2.10)
(5.81,1.38) (6.54,1.40) (6.85,1.32) (3.03,1.18) (1.79,1.21) (1.24,1.12) (3.86,1.65)
(2.78,1.65) (3.96,1.88) (4.37,1.91) (3.44,2.36) (3.5,2.3) (3.3,2.7) (3.6,2.65) (3.8,2.6)
(4.2,2.6) (3.65,2.83) (3.24,3.23) (3.44,3.42) (2.62,3.01) (1.79,3.42) (2.31,3.42)
(1.7,3.2) (1.8,3.05) (1.9,2.9) (2.0,3.15) (1.2,2.75) (1.5,2.55) (1.6,2.35) (1.8,2.2)
(2.2,2.75) (2.0,2.0) (1.3,2.05) (1.5,1.95) (1.7,1.85) (2.0,1.9) (2.2,1.95) (1.4,1.75)
(1.6,1.8) (1.2,1.7) (2.62,2.30) (2.20,2.60) (2.4,2.25) (1.9,2.45)
};
\ttl{1.26}{6.03}{8hr}
\cnt{-8.08}{4.94}{79}
\cnt{13.14}{1.46}{68}
\end{axis}

% ---------------- B: in vitro, 12hr
\begin{axis}[volc, at={(8.57cm,-18.80cm)}, width=4.05cm, height=2.68cm,
  xlabel={log2 FC}, ylabel={-log10 (q-values)}]
\cuts{15}
\addplot[ns] coordinates {
(0.90,3.88) (-0.43,3.68) (-0.95,3.42) (-0.53,3.29) (-0.64,3.11) (0.90,3.54) (0.6,3.15)
(0.8,3.05) (0.7,3.18) (-0.74,2.86) (0.7,2.75) (0.6,2.55) (-0.9,2.4) (-0.7,2.3) (-0.5,2.2)
(-0.8,2.2) (0.5,2.4) (0.6,2.25) (0.9,2.25) (-0.6,1.8) (-0.4,1.7) (-0.2,1.6) (-0.5,1.55)
(0.1,1.65) (0.7,1.77) (-0.7,1.35) (-0.5,1.3) (-0.3,1.32) (0.1,1.25) (0.6,1.3) (-0.3,1.1)
(-0.1,1.05) (0.05,0.98) (0.0,0.9) (-0.1,0.85) (0.1,0.8) (0.05,0.95)
};
\addplot[dn] coordinates {
(-8.56,4.57) (-8.81,3.35) (-7.37,3.68) (-7.37,3.11) (-6.95,3.34) (-5.99,2.76) (-5.78,3.35)
(-5.47,3.68) (-5.23,4.41) (-5.23,4.10) (-5.06,4.07) (-5.23,3.29) (-4.96,2.92) (-4.75,3.09)
(-4.65,3.05) (-4.85,3.45) (-4.7,3.4) (-4.69,2.14) (-4.55,1.94) (-4.28,4.41) (-4.24,2.55)
(-4.14,2.73) (-4.05,2.70) (-4.0,3.6) (-3.8,3.5) (-3.9,3.35) (-3.83,4.06) (-3.62,4.10)
(-3.42,4.13) (-3.62,4.38) (-3.31,4.57) (-3.72,2.89) (-3.62,2.67) (-3.62,2.55) (-3.4,3.7)
(-3.2,3.55) (-3.0,3.35) (-3.17,1.98) (-3.21,3.88) (-2.80,4.10) (-2.84,4.41) (-2.59,4.58)
(-2.8,3.3) (-2.7,3.2) (-2.5,3.15) (-2.3,3.1) (-2.7,3.45) (-2.90,2.64) (-2.7,2.62)
(-2.28,4.41) (-1.98,4.47) (-1.9,4.4) (-2.4,3.7) (-2.1,3.72) (-2.0,3.6) (-1.8,3.65)
(-2.2,2.85) (-2.4,2.95) (-2.0,2.9) (-1.77,4.16) (-1.7,4.1) (-1.5,4.14) (-1.87,3.85)
(-1.6,3.82) (-1.4,3.85) (-1.26,3.75) (-1.8,3.4) (-1.6,3.3) (-1.4,3.1) (-1.5,2.95)
(-1.6,2.8) (-1.77,2.60) (-1.7,2.36) (-1.77,2.30) (-1.26,2.67) (-1.12,2.58) (-1.12,1.98)
(-2.9,3.6) (-1.2,3.45) (-1.3,3.0) (-2.5,3.55) (-3.5,2.95) (-4.3,3.3)
};
\addplot[up] coordinates {
(3.27,4.41) (6.09,4.41) (3.17,4.10) (4.16,4.09) (6.00,3.86) (3.27,3.76) (3.70,3.66)
(3.85,3.70) (3.6,3.6) (4.40,3.60) (1.63,3.66) (2.14,3.63) (2.76,3.57) (3.37,3.66) (1.5,3.35)
(1.7,3.28) (1.9,3.2) (2.1,3.25) (2.3,3.35) (2.4,3.25) (1.4,3.15) (1.7,3.15) (2.0,3.12)
(3.17,3.42) (3.79,3.26) (3.7,3.35) (3.89,3.48) (4.71,3.35) (6.21,3.26) (6.56,3.01)
(9.44,3.01) (7.80,2.14) (5.98,1.86) (4.40,1.48) (1.15,1.09) (1.63,2.30) (2.14,2.06)
(1.89,1.89) (3.17,2.14) (3.00,2.45) (2.51,2.55) (1.93,2.98) (1.11,2.73) (1.9,2.7)
(2.1,2.75) (2.2,2.78) (3.48,3.01) (3.37,2.92) (3.54,2.75) (1.2,3.3)
};
\ttl{0.06}{6.03}{12hr}
\cnt{-8.46}{5.0}{91}
\cnt{14.14}{1.46}{48}
\end{axis}
\end{tikzpicture}
\end{document}
